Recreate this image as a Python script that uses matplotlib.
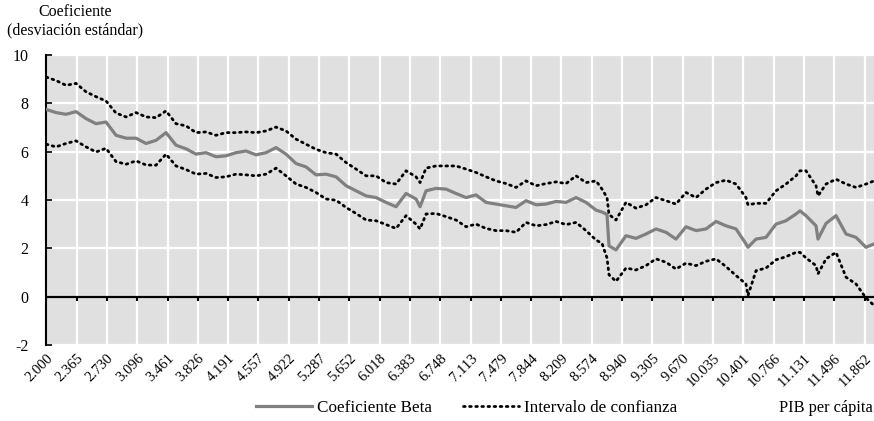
import matplotlib
matplotlib.use("Agg")
import matplotlib.pyplot as plt

plt.rcParams['font.family'] = ['Liberation Serif', 'DejaVu Serif']

# PIB per capita (x) and coefficients
pib = [2000, 2117, 2237, 2358, 2479, 2599, 2720, 2840, 2961, 3081,
       3202, 3322, 3443, 3563, 3684, 3804, 3925, 4045, 4166, 4287,
       4407, 4528, 4648, 4769, 4889, 5010, 5130, 5251, 5371, 5492,
       5613, 5733, 5854, 5974, 6095, 6215, 6336, 6456, 6505, 6577,
       6697, 6818, 6938, 7059, 7179, 7300, 7420, 7541, 7661, 7782,
       7903, 8023, 8144, 8264, 8385, 8505, 8626, 8698, 8758, 8782,
       8866, 8987, 9107, 9228, 9348, 9469, 9589, 9710, 9831, 9951,
       10072, 10192, 10313, 10433, 10457, 10554, 10674, 10795, 10915, 11036,
       11084, 11156, 11277, 11301, 11398, 11518, 11639, 11759, 11880, 11976]

beta = [7.75, 7.62, 7.55, 7.66, 7.37, 7.16, 7.23, 6.68, 6.56, 6.56,
        6.34, 6.47, 6.79, 6.27, 6.12, 5.90, 5.96, 5.79, 5.83, 5.96,
        6.03, 5.87, 5.96, 6.17, 5.90, 5.51, 5.37, 5.04, 5.07, 4.96,
        4.59, 4.38, 4.17, 4.10, 3.90, 3.72, 4.27, 4.04, 3.72, 4.38,
        4.48, 4.45, 4.27, 4.10, 4.21, 3.90, 3.83, 3.76, 3.69, 3.97,
        3.80, 3.83, 3.94, 3.90, 4.10, 3.90, 3.58, 3.50, 3.40, 2.10,
        1.93, 2.52, 2.41, 2.59, 2.80, 2.66, 2.38, 2.89, 2.73, 2.80,
        3.11, 2.93, 2.80, 2.18, 2.04, 2.38, 2.45, 3.00, 3.14, 3.42,
        3.55, 3.35, 2.93, 2.38, 3.03, 3.35, 2.59, 2.45, 2.04, 2.18]

upper = [9.09, 8.95, 8.75, 8.83, 8.48, 8.28, 8.10, 7.60, 7.44, 7.62,
         7.44, 7.41, 7.69, 7.16, 7.07, 6.79, 6.82, 6.68, 6.79, 6.79,
         6.82, 6.79, 6.86, 7.02, 6.86, 6.52, 6.31, 6.10, 5.96, 5.90,
         5.55, 5.28, 5.00, 5.00, 4.72, 4.66, 5.21, 4.96, 4.72, 5.32,
         5.41, 5.41, 5.41, 5.28, 5.14, 4.96, 4.79, 4.68, 4.52, 4.79,
         4.59, 4.68, 4.75, 4.68, 5.00, 4.72, 4.79, 4.45, 4.10, 3.40,
         3.17, 3.90, 3.66, 3.80, 4.10, 3.97, 3.83, 4.31, 4.10, 4.45,
         4.72, 4.82, 4.66, 4.10, 3.80, 3.86, 3.86, 4.38, 4.66, 5.00,
         5.21, 5.21, 4.59, 4.17, 4.66, 4.86, 4.66, 4.52, 4.66, 4.79]

lower = [6.31, 6.20, 6.34, 6.45, 6.20, 5.99, 6.14, 5.59, 5.48, 5.62,
         5.45, 5.44, 5.90, 5.41, 5.26, 5.07, 5.10, 4.93, 4.96, 5.07,
         5.04, 5.00, 5.07, 5.32, 5.00, 4.66, 4.52, 4.31, 4.04, 3.99,
         3.69, 3.44, 3.17, 3.14, 2.98, 2.82, 3.35, 3.00, 2.80, 3.42,
         3.44, 3.31, 3.17, 2.89, 3.00, 2.82, 2.73, 2.73, 2.66, 3.07,
         2.93, 2.98, 3.11, 2.98, 3.07, 2.73, 2.34, 2.20, 1.60, 0.90,
         0.63, 1.18, 1.10, 1.28, 1.56, 1.42, 1.14, 1.38, 1.28, 1.46,
         1.56, 1.24, 0.87, 0.52, 0.04, 1.07, 1.18, 1.52, 1.65, 1.83,
         1.83, 1.60, 1.28, 0.94, 1.56, 1.83, 0.80, 0.52, -0.06, -0.37]

x_labels = ['2.000', '2.365', '2.730', '3.096', '3.461', '3.826', '4.191',
            '4.557', '4.922', '5.287', '5.652', '6.018', '6.383', '6.748',
            '7.113', '7.479', '7.844', '8.209', '8.574', '8.940', '9.305',
            '9.670', '10.035', '10.401', '10.766', '11.131', '11.496', '11.862']
x_ticks = [float(s.replace('.', '')) for s in x_labels]
y_ticks = [-2, 0, 2, 4, 6, 8, 10]

fig = plt.figure(figsize=(8.74, 4.21), dpi=100)
ax = fig.add_axes([0.053, 0.181, 0.947, 0.688])
ax.set_facecolor('#e0e0e0')

# white grid
for xt in x_ticks:
    ax.axvline(xt, color='white', lw=1.6, zorder=1)
for yt in y_ticks:
    ax.axhline(yt, color='white', lw=1.6, zorder=1)

# zero line with short ticks pointing down
ax.axhline(0, color='black', lw=1.6, zorder=5)
ax.vlines(x_ticks, -0.2, 0, color='black', lw=1.5, zorder=5)

l_beta, = ax.plot(pib, beta, color='#808080', lw=2.3, zorder=3,
                  label='Coeficiente Beta')
l_ci, = ax.plot(pib, upper, color='black', lw=2.0, ls=(0, (0.6, 1.6)),
                dash_capstyle='round', zorder=4, label='Intervalo de confianza')
ax.plot(pib, lower, color='black', lw=2.0, ls=(0, (0.6, 1.6)),
        dash_capstyle='round', zorder=4)

ax.set_xlim(2000, 11976)
ax.set_ylim(-2, 10)

ax.set_yticks(y_ticks)
ax.set_yticklabels([str(v) for v in y_ticks], fontsize=11.5)
ax.tick_params(axis='y', direction='in', length=4, width=1.2, pad=13)

ax.set_xticks(x_ticks)
ax.set_xticklabels(x_labels, rotation=45, ha='right', rotation_mode='anchor',
                   fontsize=10.5)
ax.tick_params(axis='x', length=0, pad=5)

for s in ['top', 'right', 'bottom']:
    ax.spines[s].set_visible(False)
ax.spines['left'].set_linewidth(1.5)

fig.text(0.086, 0.99, 'Coeficiente\n(desviación estándar)', ha='center',
         va='top', fontsize=11.5, linespacing=1.15)

fig.legend(handles=[l_beta, l_ci], loc='center', ncol=2,
           bbox_to_anchor=(0.534, 0.03), frameon=False, fontsize=12.3,
           handlelength=3.3, handletextpad=0.3, columnspacing=1.8)
fig.text(0.998, 0.03, 'PIB per cápita', ha='right', va='center', fontsize=11.8)

fig.savefig('out.png', dpi=100)
